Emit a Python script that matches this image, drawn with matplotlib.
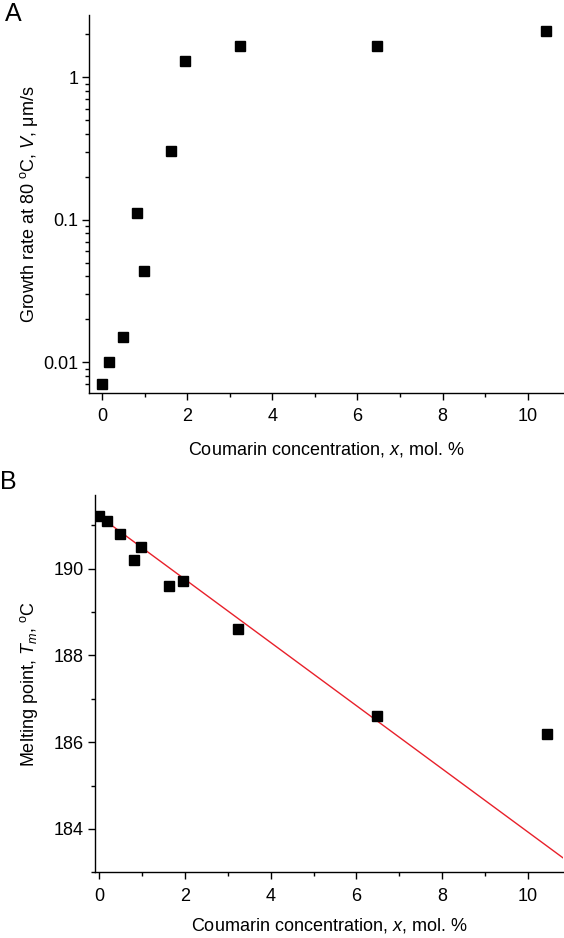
import matplotlib
matplotlib.use("Agg")
import matplotlib.pyplot as plt
import numpy as np
from matplotlib.ticker import LogLocator, FuncFormatter, MultipleLocator, NullFormatter

plt.rcParams['font.family'] = ['Liberation Sans', 'DejaVu Sans']
plt.rcParams['mathtext.fontset'] = 'custom'
plt.rcParams['mathtext.rm'] = 'Liberation Sans'
plt.rcParams['mathtext.it'] = 'Liberation Sans:italic'

# panel A: growth rate vs coumarin concentration
conc_a = [0.0, 0.16, 0.49, 0.81, 0.98, 1.62, 1.95, 3.23, 6.47, 10.43]
rate_a = [0.0070, 0.0100, 0.0151, 0.111, 0.0435, 0.304, 1.29, 1.66, 1.65, 2.12]

# panel B: melting point vs coumarin concentration
conc_b = [0.0, 0.17, 0.49, 0.81, 0.97, 1.62, 1.95, 3.24, 6.47, 10.44]
tm_b = [191.21, 191.11, 190.80, 190.21, 190.50, 189.61, 189.71, 188.60, 186.60, 186.20]

# linear fit drawn in panel B
fit_intercept = 191.21
fit_slope = -0.728

fs = 13
W, H = 564, 938
fig = plt.figure(figsize=(W / 100, H / 100), dpi=100)

def style(ax):
    ax.spines['top'].set_visible(False)
    ax.spines['right'].set_visible(False)
    for s in ('left', 'bottom'):
        ax.spines[s].set_linewidth(1.0)
    ax.tick_params(which='major', direction='out', length=5, width=1.0,
                   labelsize=fs)
    ax.tick_params(which='minor', direction='out', length=3, width=1.0)
    ax.tick_params(axis='x', which='major', pad=6)
    ax.tick_params(axis='y', which='major', pad=3)

# ---- A ----
ax1 = fig.add_axes([89.3 / W, 1 - 392.7 / H, (563 - 89.3) / W, (392.7 - 15) / H])
ax1.plot(conc_a, rate_a, 's', color='black', markersize=6.7)
ax1.set_yscale('log')
ax1.set_xlim(-0.3, 10.83)
ax1.set_ylim(0.0061, 2.73)
ax1.yaxis.set_major_locator(LogLocator(base=10))
ax1.yaxis.set_major_formatter(FuncFormatter(lambda v, p: '%g' % v))
ax1.yaxis.set_minor_locator(LogLocator(base=10, subs=np.arange(2, 10)))
ax1.yaxis.set_minor_formatter(NullFormatter())
ax1.xaxis.set_major_locator(MultipleLocator(2))
ax1.xaxis.set_minor_locator(MultipleLocator(1))
style(ax1)
ax1.set_xlabel('Coumarin concentration, $x$, mol. %', fontsize=fs, labelpad=11)
ax1.set_ylabel('Growth rate at 80 $^{\\mathrm{o}}$C, $V$, \u03bcm/s', fontsize=fs, labelpad=2)

# ---- B ----
ax2 = fig.add_axes([95 / W, 1 - 872.3 / H, (563 - 95) / W, (872.3 - 495) / H])
ax2.plot(conc_b, tm_b, 's', color='black', markersize=6.7, zorder=3)
xfit = np.array([-0.1, 10.82])
ax2.plot(xfit, fit_intercept + fit_slope * xfit, color='#e8202a', linewidth=1.0, zorder=2)
ax2.set_xlim(-0.1, 10.82)
ax2.set_ylim(183.0, 191.7)
ax2.xaxis.set_major_locator(MultipleLocator(2))
ax2.xaxis.set_minor_locator(MultipleLocator(1))
ax2.yaxis.set_major_locator(MultipleLocator(2))
ax2.yaxis.set_minor_locator(MultipleLocator(1))
style(ax2)
ax2.set_xlabel('Coumarin concentration, $x$, mol. %', fontsize=fs, labelpad=8)
ax2.set_ylabel('Melting point, $T_m$, $^{\\mathrm{o}}$C', fontsize=fs, labelpad=10)

fig.text(5 / W, 1 - 2 / H, 'A', fontsize=18, va='top', ha='left')
fig.text(0 / W, 1 - 470 / H, 'B', fontsize=18, va='top', ha='left')

fig.savefig('out.png', dpi=100)
